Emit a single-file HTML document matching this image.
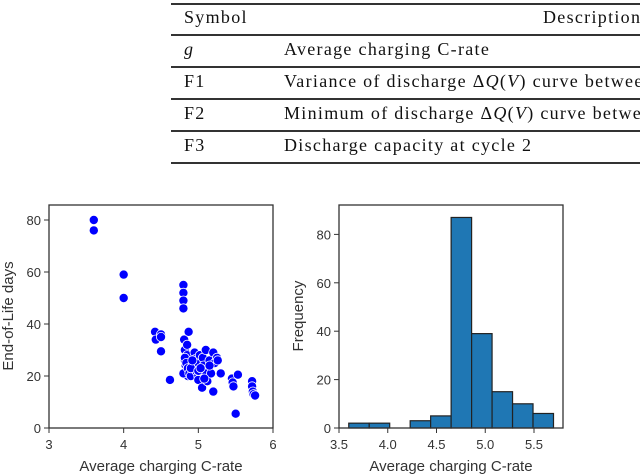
<!DOCTYPE html>
<html><head><meta charset="utf-8"><style>
body{margin:0;background:#fff;width:640px;height:474px;overflow:hidden;position:relative}
.tbl{position:absolute;left:171px;top:0;width:480px;font-family:"Liberation Serif",serif;font-size:18px;letter-spacing:1.3px;color:#111}
.line{position:absolute;left:0;width:480px;height:1.5px;background:#333}
.t{position:absolute;white-space:nowrap}
svg{position:absolute;left:0;top:0}
</style></head><body>
<div class="tbl">
<div class="line" style="top:3px"></div><div class="line" style="top:34px"></div><div class="line" style="top:66px"></div><div class="line" style="top:98px"></div><div class="line" style="top:130px"></div><div class="line" style="top:162px"></div>
<div class="t" style="left:13px;top:7px">Symbol</div>
<div class="t" style="left:372px;top:7px">Description</div>
<div class="t" style="left:13px;top:39px;font-style:italic">g</div>
<div class="t" style="left:113px;top:39px">Average charging C-rate</div>
<div class="t" style="left:13px;top:71px">F1</div>
<div class="t" style="left:113px;top:71px">Variance of discharge Δ<i>Q</i>(<i>V</i>) curve between</div>
<div class="t" style="left:13px;top:103px">F2</div>
<div class="t" style="left:113px;top:103px">Minimum of discharge Δ<i>Q</i>(<i>V</i>) curve between</div>
<div class="t" style="left:13px;top:135px">F3</div>
<div class="t" style="left:113px;top:135px">Discharge capacity at cycle 2</div>
</div>
<svg id="s" width="640" height="474" font-family="Liberation Sans, sans-serif" font-size="13" fill="#333"></svg>
<script>
const scX=[3.6,3.6,4,4,4.42,4.43,4.5,4.5,4.5,4.62,4.8,4.8,4.8,4.8,4.81,4.82,4.82,4.83,4.84,4.85,4.85,4.86,4.87,4.8,4.82,4.84,4.86,4.88,4.9,4.95,4.96,4.97,5,5,5,5.02,5.05,5.06,5.07,5.1,5.1,5.12,5.15,5.17,5.2,5.2,5.22,5.25,5.26,5.3,5.45,5.46,5.47,5.5,5.53,5.72,5.72,5.73,5.74,5.76,4.9,5.0,5.08,5.15,4.92,5.03];
const scY=[80,76,59,50,37,34,36,35,29.5,18.5,55,52,49,46,34,30,26,24,22,32,28,20,37,21,27,25,23,21,20,29,26.5,22,25,20,18.5,28,15.5,27,24,30,21,18,26,21,29,14,25,27,26,21,19,17.5,16,5.5,20.5,18,16,14,13,12.5,23,22,19,24,26,23];
const histCounts=[2,2,0,3,5,87,39,15,10,6];
const binStart=3.6, binW=0.21;
const sxTicks=[3,4,5,6], syTicks=[0,20,40,60,80];
const hxTicks=[3.5,4.0,4.5,5.0,5.5], hyTicks=[0,20,40,60,80];
const s=document.getElementById('s');const NS='http://www.w3.org/2000/svg';
function el(t,a,txt){const e=document.createElementNS(NS,t);for(const k in a)e.setAttribute(k,a[k]);if(txt!==undefined)e.textContent=txt;s.appendChild(e);return e;}
const X1=v=>49+(v-3)*74.67, Y1=v=>428-v*2.6;
const X2=v=>339+(v-3.5)*97.5, Y2=v=>428-v*2.42;
let f=el('rect',{x:49,y:205,width:224,height:223,fill:'none',stroke:'#333','stroke-width':1.3});

scX.forEach((x,i)=>{const c=el('circle',{cx:X1(x),cy:Y1(scY[i]),r:4.6,fill:'#0000ff',stroke:'#fff','stroke-width':0.8});
});
sxTicks.forEach(t=>{el('line',{x1:X1(t),x2:X1(t),y1:428,y2:433,stroke:'#333'});const e=el('text',{x:X1(t),y:449,'text-anchor':'middle'},t);});
syTicks.forEach(t=>{el('line',{x1:44,x2:49,y1:Y1(t),y2:Y1(t),stroke:'#333'});const e=el('text',{x:41,y:Y1(t)+5,'text-anchor':'end'},t);});
let a=el('text',{x:161,y:471,'text-anchor':'middle','font-size':15},'Average charging C-rate');
a=el('text',{x:0,y:0,'text-anchor':'middle','font-size':15,transform:'translate(13,316) rotate(-90)'},'End-of-Life days');
histCounts.forEach((c,i)=>{if(!c)return;const x0=X2(binStart+i*binW),x1=X2(binStart+(i+1)*binW);
const r=el('rect',{x:x0,y:Y2(c),width:x1-x0,height:428-Y2(c),fill:'#1f77b4',stroke:'#222','stroke-width':1.2});
});
f=el('rect',{x:339,y:205,width:224,height:223,fill:'none',stroke:'#333','stroke-width':1.3});

hxTicks.forEach(t=>{el('line',{x1:X2(t),x2:X2(t),y1:428,y2:433,stroke:'#333'});const e=el('text',{x:X2(t),y:449,'text-anchor':'middle','font-size':13},t.toFixed(1));});
hyTicks.forEach(t=>{el('line',{x1:334,x2:339,y1:Y2(t),y2:Y2(t),stroke:'#333'});const e=el('text',{x:331,y:Y2(t)+5,'text-anchor':'end','font-size':13},t);});
a=el('text',{x:451,y:471,'text-anchor':'middle','font-size':15},'Average charging C-rate');
a=el('text',{x:0,y:0,'text-anchor':'middle','font-size':15,transform:'translate(303,316) rotate(-90)'},'Frequency');
</script>
</body></html>
